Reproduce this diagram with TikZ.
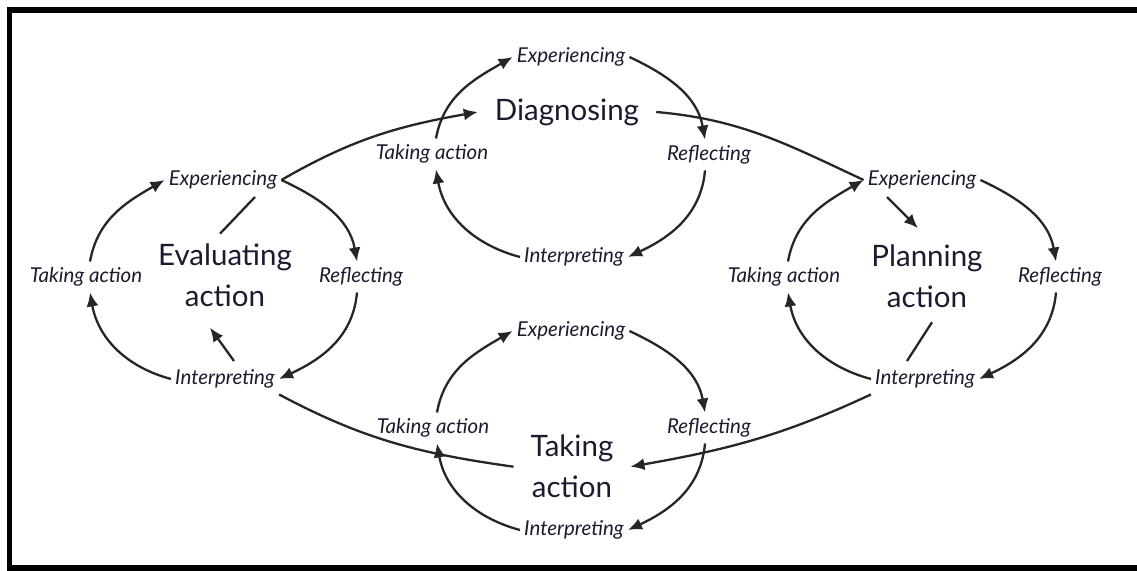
\documentclass[tikz,border=0pt]{standalone}
\usepackage{fontspec}
\setmainfont{Lato}
\usetikzlibrary{arrows.meta}
\definecolor{ln}{HTML}{262626}
\definecolor{tx}{HTML}{1C1A2E}
\begin{document}
\begin{tikzpicture}[x=1pt,y=1pt,
 lbl/.style={font=\fontsize{20.5}{23}\selectfont\itshape, text=tx, inner xsep=4pt, inner ysep=5.5pt, text height=15pt, text depth=4.5pt},
 big/.style={font=\fontsize{29.5}{41}\selectfont, text=tx, align=center, inner xsep=17pt, inner ysep=4pt},
 cyc/.style={draw=ln, line width=2.3pt},
 arr/.style={cyc, -{Latex[length=14pt,width=12pt]}}]

\useasboundingbox (0,0) rectangle (1137,570);
\begin{scope}
\clip (0,0) rectangle (1137,570);
\draw[line width=5.5pt] (9.5,2) rectangle (1160,560);
\end{scope}

% Diagnosing cycle
\node[lbl] (D-ex) at (571,513) {Experiencing};
\node[lbl] (D-ta) at (432,416) {Taking action};
\node[lbl] (D-re) at (709,415) {Reflecting};
\node[lbl] (D-in) at (574,313) {Interpreting};
\node[big] (D-main) at (567,458) {Diagnosing};

% Evaluating action cycle
\node[lbl] (E-ex) at (223,390) {Experiencing};
\node[lbl] (E-ta) at (86,293) {Taking action};
\node[lbl] (E-re) at (361,293) {Reflecting};
\node[lbl] (E-in) at (225,191) {Interpreting};
\node[big] (E-main) at (225,294.3) {Evaluating\\action};

% Planning action cycle
\node[lbl] (P-ex) at (922,390) {Experiencing};
\node[lbl] (P-ta) at (784,293) {Taking action};
\node[lbl] (P-re) at (1060,293) {Reflecting};
\node[lbl] (P-in) at (925,191) {Interpreting};
\node[big] (P-main) at (927,293.8) {Planning\\action};

% Taking action cycle
\node[lbl] (T-ex) at (571,239) {Experiencing};
\node[lbl] (T-ta) at (433,142) {Taking action};
\node[lbl] (T-re) at (709,142) {Reflecting};
\node[lbl] (T-in) at (574,40) {Interpreting};
\node[big] (T-main) at (572,103.3) {Taking\\action};

\foreach \c in {D,E,P,T}{
 \draw[arr] ([xshift=4pt]\c-ta.north) to[out=80,in=210] (\c-ex.west);
 \draw[arr] (\c-ex.east) to[out=-25,in=100] ([xshift=-4pt]\c-re.north);
 \draw[arr] ([xshift=-4pt]\c-re.south) to[out=-95,in=25] (\c-in.east);
 \draw[arr] (\c-in.west) to[out=165,in=-80] ([xshift=4pt]\c-ta.south);
}

% inner links
\draw[cyc] ([shift={(32,-17)}]E-ex.center) -- ([shift={(-5,42)}]E-main.center);
\draw[arr] ([shift={(9,18)}]E-in.center) -- ([shift={(-15,-52)}]E-main.center);
\draw[arr] ([shift={(-35,-17)}]P-ex.center) -- ([shift={(-9,48)}]P-main.center);
\draw[cyc] ([shift={(-18,18)}]P-in.center) -- ([shift={(5,-46)}]P-main.center);

% links between cycles
\draw[arr] (E-ex.east) to[out=30,in=190] (D-main.west);
\draw[cyc] (D-main.east) to[out=-5,in=155] (P-ex.west);
\draw[arr] (P-in.south west) to[out=205,in=10] (T-main.east);
\draw[cyc] (E-in.south east) to[out=-28,in=172] (T-main.west);
\end{tikzpicture}
\end{document}
